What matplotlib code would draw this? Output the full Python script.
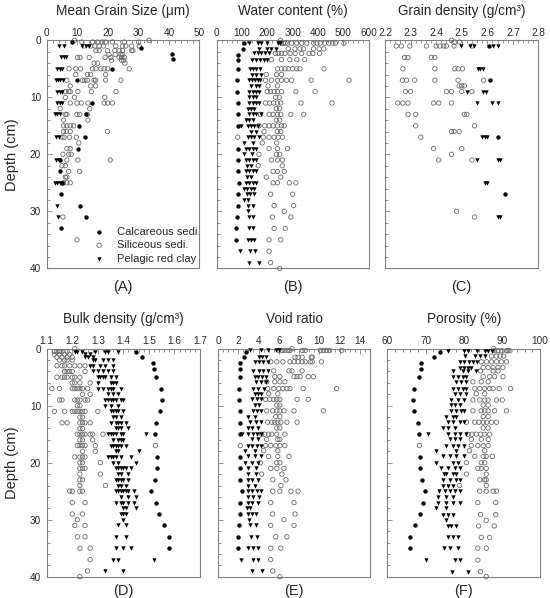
import matplotlib
matplotlib.use('Agg')
import matplotlib.pyplot as plt
from matplotlib.ticker import MultipleLocator, FormatStrFormatter

plt.rcParams['font.family'] = ['Liberation Sans', 'DejaVu Sans']

TXT = '#262626'
FRAME = '#808080'
SIL_EC = '#6a6a6a'

# ---------------------------------------------------------------- data
calc_depth = [0.5, 1.5, 2.5, 3.5, 5, 7, 9, 11, 13, 15, 19, 21, 23, 25, 27, 29, 31, 33, 35]

# (A) mean grain size (um)
grain_calc_depth = [0.3, 1.3, 2.4, 3.3, 5, 7, 11, 13, 15, 17, 19, 21, 23, 25, 27, 29, 31, 33]
grain_calc = [8.4, 31.0, 40.9, 41.2, 21.5, 9.8, 14.9, 12.7, 10.5, 12.4, 10.2, 4.2, 4.2, 5.0, 4.8, 11.0, 13.0, 4.8]
grain_sil_depth = [0, 0.3, 1, 1.8, 2.5, 3, 3.5, 4, 5, 6, 7, 8, 9, 10, 11, 12, 13, 14, 15, 16,
                   17, 18, 19, 20, 21, 22, 23, 24, 25, 31, 35]
grain_sil = [
    [9.1, 33.5],
    [11.5, 15.0, 16.6, 18.2, 19.3, 21.5, 25.4, 30.1],
    [12.2, 14.4, 15.8, 17.2, 18.6, 22.6, 24.8, 25.9, 27.8, 30.3],
    [16.1, 17.2, 19.9, 22.3, 23.7, 24.8, 27.8, 28.2],
    [20.4, 22.4, 24.3, 24.9],
    [10.1, 10.9, 13.9, 19.1, 21.0, 23.7, 24.5, 25.4],
    [21.2, 24.5, 25.2],
    [15.5, 16.6, 25.6],
    [7.3, 9.5, 11.1, 15.0, 16.1, 17.7, 18.8, 19.9, 27.0],
    [9.5, 13.3, 14.4, 19.3],
    [6.6, 11.7, 12.5, 13.3, 15.5, 16.0, 19.3, 24.3],
    [7.7, 14.4, 16.0],
    [6.1, 7.2, 7.7, 10.2, 14.6, 22.7],
    [6.1, 9.1, 19.0],
    [7.7, 9.9, 11.3, 13.5, 18.8, 19.9, 21.5],
    [4.4, 14.1],
    [6.1, 6.6, 9.9, 10.8, 13.3],
    [5.5, 13.5],
    [5.5, 6.6, 7.7, 8.8],
    [5.5, 6.4, 7.7, 19.9],
    [5.0, 5.7, 7.5, 9.7],
    [10.5],
    [6.6, 7.7],
    [5.3, 7.2, 8.0],
    [6.6, 10.2, 20.8],
    [5.0, 6.1],
    [7.2, 10.8],
    [6.1, 6.6],
    [5.5, 6.6, 7.7],
    [5.3],
    [9.9],
]
grain_pel_depth = [1, 3, 5, 7, 9, 11, 13, 17, 21, 25, 29, 31]
grain_pel = [[4.0, 5.7, 11.5, 12.8, 13.9], [4.6, 5.5, 6.4], [3.5, 4.2, 5.0], [3.0, 3.8, 4.5, 5.2],
             [3.5, 4.2, 5.0], [3.5, 4.2, 5.0], [2.8, 3.5, 4.2], [3.2, 4.0], [3.2, 4.0],
             [2.8, 3.5, 4.2, 5.0], [3.5], [3.8]]

# (B) water content (%)
water_calc = [109, 103, 85, 85, 85, 80, 80, 85, 85, 85, 85, 85, 85, 89, 85, 85, 80, 76, 76]
water_sil_depth = [0, 0.5, 1.5, 2.3, 3.4, 5, 6, 7, 8, 9, 10, 11, 12, 13, 14, 15, 16, 17, 18, 19,
                   20, 21, 22, 23, 24, 25, 27, 29, 30, 31, 33, 35, 37, 39, 40]
water_sil = [
    [252],
    [256, 263, 270, 280, 296, 316, 336, 356, 383, 396, 409, 427, 443, 459, 469, 503],
    [283, 309, 329, 343, 383, 405, 423],
    [232, 243, 256, 270, 290, 310, 336, 365, 380, 407],
    [216, 256, 289, 317, 347],
    [240, 256, 270, 283, 300, 316, 329, 424],
    [196, 236, 256],
    [193, 216, 240, 256, 276, 296, 373, 523],
    [203, 240],
    [200, 213, 227, 240, 256, 313, 389],
    [233, 247],
    [193, 209, 225, 240, 253, 333, 456],
    [236, 249],
    [173, 207, 223, 240, 253, 293, 344],
    [236, 249],
    [167, 190, 207, 223, 240, 256, 267],
    [187, 240, 253],
    [83, 184, 207, 227, 243, 260],
    [180, 237],
    [207, 240, 280],
    [167, 236, 249],
    [216, 240, 260],
    [164, 259],
    [223, 240, 267],
    [196, 253],
    [223, 240, 287, 313],
    [213, 300],
    [227, 304],
    [267],
    [220, 293],
    [227, 271],
    [207, 253],
    [207],
    [213],
    [249],
]
water_pel_depth = [0.5, 1.5, 2.3, 3.4, 5, 6, 7, 8, 9, 10, 11, 12, 13, 14, 15, 16, 17, 18, 19, 20,
                   21, 22, 23, 24, 25, 26, 27, 28, 29, 30, 31, 33, 35, 37, 39]
water_pel = [
    [129, 163, 176, 200, 243, 249], [169, 200, 215, 236], [149, 163, 176, 189, 205],
    [139, 155, 170, 185, 200], [133, 145, 156, 173], [139, 156, 176], [127, 139, 150, 162, 173],
    [136, 156, 169], [129, 143, 156, 169], [129, 143, 156], [129, 143, 156, 169], [123, 136, 149],
    [129, 143, 156, 176], [116, 129, 143], [96, 123, 136, 149, 163], [136, 156],
    [123, 136, 149, 169], [109, 143], [116, 129, 143, 156], [107, 139], [116, 129, 143, 156],
    [120, 136], [116, 129, 143, 156], [120, 136], [116, 129, 143, 156], [107, 120, 136, 149],
    [120, 133, 149], [107, 123], [123, 143], [123], [129, 143], [129, 143], [123, 136, 149],
    [91, 133, 152], [129, 167],
]

# (C) grain density (g/cm3)
dens_calc_depth = [1, 7, 17, 27]
dens_calc = [2.607, 2.61, 2.64, 2.67]
dens_sil_depth = [0, 0.3, 1, 3, 5, 7, 8, 9, 11, 13, 15, 16, 17, 19, 20, 21, 30, 31]
dens_sil = [
    [2.46],
    [2.473, 2.49],
    [2.244, 2.264, 2.297, 2.362, 2.40, 2.415, 2.43, 2.44, 2.47, 2.54],
    [2.277, 2.29, 2.381, 2.395],
    [2.27, 2.395, 2.473, 2.486, 2.503],
    [2.268, 2.284, 2.316, 2.395, 2.486, 2.586],
    [2.49, 2.50, 2.51],
    [2.28, 2.30, 2.44, 2.46, 2.50, 2.54],
    [2.25, 2.27, 2.29, 2.39, 2.41, 2.46],
    [2.29, 2.32, 2.51, 2.52],
    [2.32, 2.55],
    [2.46, 2.47, 2.49],
    [2.34],
    [2.39, 2.50],
    [2.46],
    [2.41, 2.54],
    [2.48],
    [2.55],
]
dens_pel_depth = [1, 5, 9, 11, 17, 21, 25, 31]
dens_pel = [[2.496, 2.534, 2.547, 2.623, 2.643], [2.562, 2.573, 2.584], [2.52, 2.585, 2.595],
            [2.56, 2.62, 2.64], [2.58, 2.59, 2.60], [2.56, 2.64, 2.65], [2.59, 2.60], [2.64, 2.65]]

# (D) bulk density (g/cm3)
bulk_calc = [1.45, 1.475, 1.517, 1.519, 1.526, 1.547, 1.551, 1.542, 1.528, 1.523,
             1.532, 1.532, 1.523, 1.509, 1.527, 1.538, 1.558, 1.579, 1.579]
bulk_sil_depth = [0, 0.5, 1, 1.5, 2, 3, 4, 5, 6, 7, 8, 9, 10, 11, 12, 13, 14, 15, 16, 17, 18,
                  19, 20, 21, 22, 23, 24, 25, 27, 29, 30, 31, 33, 35, 37, 39, 40]
bulk_sil = [
    [1.21], [1.13, 1.14, 1.15, 1.16, 1.18], [1.13, 1.15, 1.17, 1.19], [1.14, 1.16, 1.18, 1.2],
    [1.15, 1.17, 1.18, 1.2], [1.14, 1.16, 1.17, 1.19, 1.21, 1.23, 1.25],
    [1.17, 1.18, 1.19, 1.2, 1.25], [1.14, 1.16, 1.17, 1.18, 1.2, 1.21, 1.23],
    [1.2, 1.21, 1.23, 1.27], [1.12, 1.15, 1.2, 1.21, 1.22, 1.23, 1.24, 1.26], [1.24, 1.27],
    [1.15, 1.16, 1.21, 1.22, 1.23, 1.25, 1.26], [1.22, 1.23],
    [1.13, 1.17, 1.2, 1.21, 1.22, 1.23, 1.24, 1.25, 1.3], [1.23, 1.24],
    [1.16, 1.18, 1.23, 1.24, 1.25, 1.27], [1.23, 1.24], [1.22, 1.23, 1.24, 1.25, 1.27, 1.28, 1.32],
    [1.23, 1.24, 1.28], [1.22, 1.23, 1.24, 1.25, 1.29, 1.526], [1.24, 1.29],
    [1.21, 1.23, 1.24, 1.25], [1.23, 1.24, 1.31], [1.23, 1.24, 1.25], [1.23, 1.31], [1.23, 1.24],
    [1.23, 1.33], [1.19, 1.2, 1.23, 1.24], [1.2, 1.25], [1.2, 1.24], [1.22], [1.21, 1.25],
    [1.22, 1.25], [1.23, 1.27], [1.27], [1.26], [1.23],
]
bulk_pel_depth = [0.5, 1, 1.5, 2, 3, 4, 5, 6, 7, 8, 9, 10, 11, 12, 13, 14, 15, 16, 17, 18, 19,
                  20, 21, 22, 23, 24, 25, 26, 27, 28, 29, 30, 31, 33, 35, 37, 39]
bulk_pel = [
    [1.21, 1.22, 1.24, 1.29, 1.33, 1.34, 1.38], [1.25, 1.27], [1.25, 1.26, 1.28],
    [1.28, 1.29, 1.32, 1.34, 1.36], [1.27, 1.28, 1.31, 1.33, 1.36], [1.28, 1.3, 1.32, 1.34, 1.36],
    [1.3, 1.31, 1.32, 1.33, 1.35, 1.37], [1.3, 1.35, 1.36, 1.37], [1.3, 1.32, 1.34, 1.35, 1.36, 1.39],
    [1.34, 1.36, 1.38], [1.33, 1.34, 1.35, 1.36, 1.37, 1.39, 1.4], [1.33, 1.35, 1.38],
    [1.35, 1.36, 1.37, 1.38, 1.4], [1.36, 1.37, 1.39], [1.35, 1.37, 1.38, 1.39, 1.41],
    [1.37, 1.38, 1.39, 1.42], [1.34, 1.35, 1.36, 1.37, 1.39, 1.4, 1.49], [1.36, 1.38, 1.39, 1.4],
    [1.35, 1.36, 1.37, 1.38, 1.39, 1.41], [1.37, 1.38, 1.46], [1.34, 1.35, 1.36, 1.37, 1.39, 1.43],
    [1.36, 1.38, 1.45], [1.37, 1.38, 1.39, 1.4, 1.41, 1.43], [1.38, 1.39, 1.42],
    [1.37, 1.38, 1.39, 1.4, 1.42], [1.38, 1.39, 1.41], [1.37, 1.38, 1.39, 1.4, 1.41, 1.42, 1.44],
    [1.39, 1.42, 1.45], [1.37, 1.39, 1.4, 1.42, 1.44], [1.4, 1.41, 1.45], [1.39, 1.4, 1.41],
    [1.4], [1.38, 1.41], [1.37, 1.41], [1.37, 1.4, 1.43], [1.36, 1.38, 1.52], [1.33, 1.4],
]

# (E) void ratio
void_calc = [2.8, 2.6, 2.2, 2.2, 2.2, 2.1, 2.1, 2.2, 2.2, 2.2, 2.2, 2.2, 2.2, 2.4, 2.2, 2.2, 2.1, 1.96, 1.96]
void_sil_depth = [0, 0.3, 1.5, 2.3, 3.9, 4.9, 5.8, 7.0, 7.9, 8.9, 9.9, 10.9, 11.9, 12.9, 13.9, 15.0,
                  15.9, 17.0, 17.9, 18.9, 20.0, 21.0, 22.0, 23.0, 24.0, 25.0, 27.0, 29.0, 30.0,
                  31.0, 33.0, 35.0, 37.0, 39.0, 40.0]
void_sil = [
    [7.3], [6.0, 6.3, 6.6, 6.9, 7.1, 8.3, 8.6, 10.1, 10.4, 10.7, 11.0, 12.2],
    [7.6, 7.9, 8.3, 9.2, 9.3], [5.2, 5.8, 6.4, 7.1, 7.5, 7.9, 8.3, 8.6, 9.1, 9.3, 10.2],
    [5.5, 7.0, 7.3, 8.3], [5.6, 6.1, 7.5, 7.8, 8.1, 8.9, 9.4], [4.8, 5.6, 6.1, 6.6],
    [4.9, 5.5, 6.0, 6.4, 6.8, 7.1, 8.4, 11.7], [5.0, 5.9], [4.7, 5.1, 5.5, 5.8, 6.1, 7.8, 8.9],
    [5.8, 6.1], [4.8, 5.4, 5.8, 6.1, 6.5, 7.5, 10.4], [5.7, 6.1], [4.9, 5.3, 5.6, 5.9, 6.2, 6.8, 7.8],
    [5.8, 6.1], [4.3, 4.6, 5.0, 5.3, 5.8, 6.6], [4.8, 5.9, 6.1], [2.2, 4.7, 5.2, 5.7, 6.1, 6.6],
    [4.5, 5.9], [5.0, 5.9, 7.0], [4.2, 5.8, 6.1], [5.2, 5.8, 6.5], [4.3, 6.3], [5.4, 6.7], [6.2],
    [5.4, 6.1, 7.2, 7.9], [5.2, 7.5], [5.4, 7.6], [6.5], [5.2, 7.5], [5.7, 6.8], [5.2, 6.2],
    [5.2], [5.4], [6.1],
]
void_pel_depth = [0.3, 1.5, 2.3, 3.9, 4.9, 5.8, 7.0, 7.9, 8.9, 9.9, 10.9, 11.9, 12.9, 13.9, 15.0,
                  15.9, 17.0, 17.9, 18.9, 20.0, 21.0, 22.0, 23.0, 24.0, 25.0, 26.0, 27.0, 28.0,
                  29.0, 30.0, 31.0, 33.0, 35.0, 37.0, 39.0]
void_pel = [
    [3.2, 4.2, 4.9, 5.7, 6.0], [4.0, 4.3, 4.7], [3.6, 4.0, 4.4, 4.9], [3.5, 4.0, 4.4, 4.9],
    [3.6, 3.9, 4.3, 4.7], [3.7, 4.2, 4.7], [3.5, 3.9, 4.5], [3.6, 3.9, 4.2], [3.4, 3.8, 4.2],
    [3.6, 4.0], [3.5, 3.8, 4.2], [3.0, 3.6], [3.2, 3.7, 4.2], [3.0, 3.4, 3.9],
    [2.4, 3.0, 3.5, 3.8, 4.2], [3.4, 3.9], [3.0, 3.4, 3.8, 4.2], [2.7, 3.6], [3.0, 3.6, 4.2],
    [2.7, 3.4, 3.9], [3.0, 3.7], [3.0, 3.7], [3.0, 3.4, 3.9], [3.0, 3.6], [3.0, 3.4, 3.8, 4.2],
    [3.0, 3.5, 4.0], [3.0, 3.4, 3.9], [2.9, 3.2], [3.0, 3.4, 3.7], [3.1], [3.2, 3.7], [3.3, 3.8],
    [3.0, 3.5, 3.9], [2.3, 3.5, 3.9], [3.4, 4.3],
]

# (F) porosity (%)
poro_calc = [73.8, 72.3, 68.8, 68.8, 68.2, 66.9, 66.6, 67.0, 67.9, 68.2, 68.4, 68.4, 69.1, 69.8,
             69.2, 68.6, 67.3, 65.9, 65.9]
poro_sil_depth = [0, 0.35, 1.3, 2.3, 3.3, 3.9, 4.9, 5.8, 7.0, 7.9, 9.0, 9.9, 10.9, 11.9, 12.9, 13.9,
                  15.0, 15.9, 17.0, 17.9, 18.9, 20.0, 21.0, 22.0, 23.0, 24.0, 25.0, 27.0, 29.1,
                  30.1, 31.1, 33.1, 35.0, 37.1, 39.1, 40]
poro_sil = [
    [87.9], [88.1, 89.0, 90.0, 91.2, 91.6, 92.1], [87.3, 88.6, 89.5, 90.5],
    [84.6, 86.0, 87.3, 88.6, 89.9, 91.2], [85.1, 86.4, 87.7, 89.0, 90.3], [84.4, 87.7, 89.0],
    [85.1, 86.8, 88.1, 90.3], [82.4, 84.6, 86.4], [82.9, 84.2, 85.5, 86.8, 87.7, 89.3, 92.3],
    [83.3, 85.5], [82.4, 84.2, 85.5, 86.4, 88.6, 90.1], [85.1, 86.4],
    [82.4, 84.6, 85.5, 86.4, 88.1, 91.2], [85.1, 86.4], [80.7, 82.9, 84.0, 85.1, 86.0, 87.3, 88.6],
    [85.1, 86.4], [81.1, 82.2, 83.3, 84.4, 85.5, 86.8], [82.0, 84.6, 86.4],
    [68.4, 82.0, 83.7, 85.1, 86.4], [81.5, 85.5], [82.9, 85.1, 85.9, 87.5], [80.7, 84.6, 85.5],
    [83.7, 84.6, 85.9], [80.7, 85.9], [84.2, 85.5, 85.9], [78.9, 85.9], [84.2, 85.9, 87.7, 88.6],
    [83.7, 88.4], [84.4, 88.4], [85.9], [83.9, 88.0], [84.6, 86.8], [83.7, 85.9], [83.7], [84.4],
    [85.9],
]
poro_pel_depth = [0.35, 1.3, 2.3, 3.3, 3.9, 4.9, 5.8, 7.0, 7.9, 9.0, 9.9, 10.9, 11.9, 12.9, 13.9,
                  15.0, 15.9, 17.0, 17.9, 18.9, 20.0, 21.0, 22.0, 23.0, 24.0, 25.0, 26.0, 27.0,
                  28.0, 29.1, 30.1, 31.1, 33.1, 35.0, 37.1, 39.1]
poro_pel = [
    [75.8, 80.2, 81.1, 83.5, 85.5, 86.4, 87.3], [80.4, 82.9, 84.2, 85.5],
    [78.9, 80.2, 81.5, 82.4, 83.5], [78.9, 80.0, 81.1, 82.0], [77.3, 79.8, 81.1, 83.3],
    [77.3, 78.5, 79.8, 80.7], [78.0, 79.3, 80.7], [77.1, 78.5, 79.8, 80.7], [77.6, 79.1, 80.7],
    [76.7, 78.5, 80.2], [76.7, 77.8, 78.9], [76.7, 78.0, 79.3, 80.2], [75.4, 77.1, 78.0],
    [75.8, 77.3, 78.9, 80.2], [74.5, 76.0, 77.6], [70.5, 75.8, 77.6, 79.1, 80.7],
    [76.3, 77.6, 78.9], [75.4, 77.1, 78.5, 80.2], [72.7, 78.0], [74.5, 76.3, 78.0, 80.2],
    [72.7, 77.1, 78.5], [74.0, 75.8, 77.6, 78.9], [74.7, 75.4, 77.1, 78.0],
    [74.5, 76.3, 78.0, 78.9], [74.5, 75.8, 77.1], [73.6, 75.0, 76.3, 77.6, 78.9],
    [73.2, 75.4, 77.1], [73.2, 75.4, 77.1, 78.9], [72.7, 75.4], [74.5, 76.0, 77.1], [75.4],
    [75.8, 76.7, 78.0], [75.8, 77.1, 78.5], [74.9, 76.3, 78.5], [70.1, 77.8, 79.1], [77.0, 81.1],
]


def flat(depths, rows):
    xs, ys = [], []
    for d, row in zip(depths, rows):
        xs.extend(row)
        ys.extend([d] * len(row))
    return xs, ys


# ---------------------------------------------------------------- figure
fig = plt.figure(figsize=(5.5, 5.98), dpi=100)

top_b, bot_b, h = 0.5513, 0.0356, 0.3813
panels = [
    # rect, calc depths, calc vals, sil, pel, xlim, major, minor, fmt, title, tag
    ([0.0849, top_b, 0.2778, h], grain_calc_depth, grain_calc, (grain_sil_depth, grain_sil),
     (grain_pel_depth, grain_pel), (0, 50), 10, 2, '%d', 'Mean Grain Size (\u03bcm)', '(A)'),
    ([0.3940, top_b, 0.2760, h], calc_depth, water_calc, (water_sil_depth, water_sil),
     (water_pel_depth, water_pel), (0, 600), 100, 20, '%d', 'Water content (%)', '(B)'),
    ([0.7000, top_b, 0.2790, h], dens_calc_depth, dens_calc, (dens_sil_depth, dens_sil),
     (dens_pel_depth, dens_pel), (2.2, 2.8), 0.1, 0.02, '%.1f', 'Grain density (g/cm\u00b3)', '(C)'),
    ([0.0849, bot_b, 0.2787, h], calc_depth, bulk_calc, (bulk_sil_depth, bulk_sil),
     (bulk_pel_depth, bulk_pel), (1.1, 1.7), 0.1, 0.02, '%.1f', 'Bulk density (g/cm\u00b3)', '(D)'),
    ([0.3964, bot_b, 0.2764, h], calc_depth, void_calc, (void_sil_depth, void_sil),
     (void_pel_depth, void_pel), (0, 15), 2, 0.5, '%d', 'Void ratio', '(E)'),
    ([0.7045, bot_b, 0.2773, h], calc_depth, poro_calc, (poro_sil_depth, poro_sil),
     (poro_pel_depth, poro_pel), (60, 100), 10, 2, '%d', 'Porosity (%)', '(F)'),
]

for i, (rect, cd, cv, sil, pel, xlim, major, minor, fmt, title, tag) in enumerate(panels):
    ax = fig.add_axes(rect)
    sx, sy = flat(*sil)
    px, py = flat(*pel)
    h_sil = ax.scatter(sx, sy, s=10, marker='o', facecolors='none', edgecolors=SIL_EC,
                       linewidths=0.6, clip_on=False, zorder=3)
    h_pel = ax.scatter(px, py, s=10, marker='v', color='black', linewidths=0,
                       clip_on=False, zorder=4)
    h_calc = ax.scatter(cv, cd, s=10, marker='o', color='black', linewidths=0,
                        clip_on=False, zorder=5)

    ax.set_xlim(*xlim)
    ax.set_ylim(40, 0)
    ax.xaxis.tick_top()
    ax.xaxis.set_major_locator(MultipleLocator(major))
    ax.xaxis.set_minor_locator(MultipleLocator(minor))
    ax.xaxis.set_major_formatter(FormatStrFormatter(fmt))
    ax.yaxis.set_major_locator(MultipleLocator(10))
    ax.yaxis.set_minor_locator(MultipleLocator(2))
    ax.tick_params(axis='both', which='both', direction='in', color=FRAME, width=0.6,
                   labelcolor=TXT, labelsize=7.2)
    ax.tick_params(axis='both', which='major', length=3.5)
    ax.tick_params(axis='both', which='minor', length=1.8)
    ax.tick_params(axis='x', which='both', top=True, bottom=False, pad=2)
    ax.tick_params(axis='y', which='both', left=True, right=False, pad=4)
    if i % 3 != 0:
        ax.tick_params(axis='y', labelleft=False)
    for sp in ax.spines.values():
        sp.set_color(FRAME)
        sp.set_linewidth(0.8)

    ax.text(0.5, 1.13, title, transform=ax.transAxes, ha='center', va='center',
            fontsize=9.8, color=TXT)
    tag_y = -0.084 if i < 3 else -0.062
    ax.text(0.5, tag_y, tag, transform=ax.transAxes, ha='center', va='center',
            fontsize=10.5, color=TXT)
    if i % 3 == 0:
        ax.text(-0.227, 0.5, 'Depth (cm)', transform=ax.transAxes, rotation=90,
                ha='center', va='center', fontsize=10.5, color=TXT)
    if i == 0:
        ax.legend([h_calc, h_sil, h_pel], ['Calcareous sedi.', 'Siliceous sedi.', 'Pelagic red clay'],
                  loc='lower right', bbox_to_anchor=(1.005, 0.02), frameon=False, fontsize=8,
                  scatterpoints=1, handlelength=1.0, handletextpad=1.1, labelspacing=0.32,
                  borderpad=0, borderaxespad=0, labelcolor=TXT)

fig.savefig('out.png', dpi=100)
